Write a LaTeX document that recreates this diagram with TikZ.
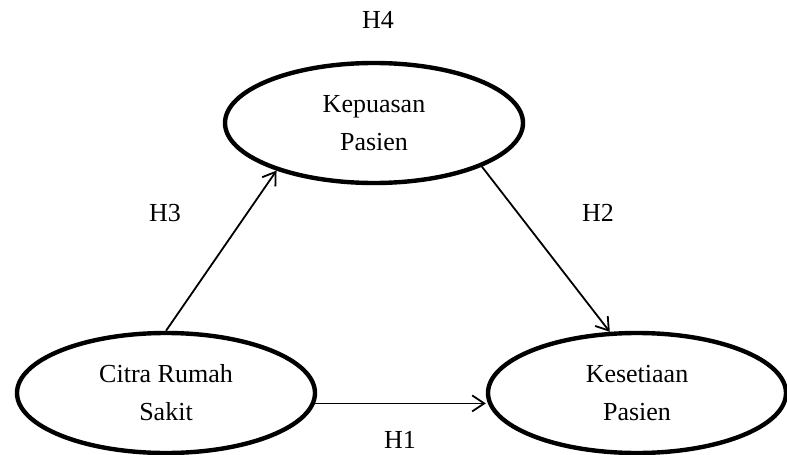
\documentclass[tikz,border=0pt]{standalone}
\usepackage{fontspec}
\setmainfont{Liberation Serif}
\usetikzlibrary{shapes.geometric,arrows.meta}

\begin{document}
\begin{tikzpicture}[
    x=0.5pt, y=-0.5pt,
    every node/.style={font=\fontsize{13}{19}\selectfont}, % Same text size everywhere
    var/.style={ellipse, draw, line width=2.2pt, minimum width=149pt, minimum height=60pt, inner sep=0pt, align=center}, % Variable style
    path/.style={-{Straight Barb[length=6pt,width=8pt]}, line width=0.9pt} % Hypothesis arrow
]

    % Canvas
    \useasboundingbox (0,0) rectangle (787,455);

    % --- VARIABLES ---
    \node[var] (kepuasan) at (374,123) {Kepuasan\\Pasien};
    \node[var] (citra) at (166,393) {Citra Rumah\\Sakit};
    \node[var] (kesetiaan) at (637,393) {Kesetiaan\\Pasien};

    % --- HYPOTHESES ---
    \draw[path] (citra.north) -- (kepuasan.206);
    \draw[path] (kepuasan.338) -- (kesetiaan.114);
    \draw[path] (citra.356) -- (citra.356 -| kesetiaan.west);

    % Labels
    \node (h4) at (378,20) {H4};
    \node (h3) at (165,213) {H3};
    \node (h2) at (598,213) {H2};
    \node (h1) at (400,440) {H1};

\end{tikzpicture}
\end{document}
